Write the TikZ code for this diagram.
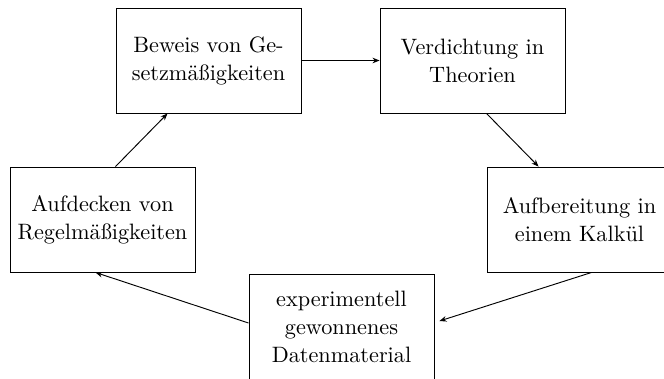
\documentclass[tikz,border=0pt]{standalone}
\usepackage{fontspec}
\usetikzlibrary{arrows.meta}

\tikzset{
  stage/.style={draw, minimum width=2.775cm, minimum height=1.575cm, align=center, inner sep=0pt,
    font=\fontsize{9.5pt}{12pt}\selectfont},
  flow/.style={thin, -{Stealth[length=3pt, width=2.4pt]}}
}

\begin{document}
\begin{tikzpicture}[x=0.015cm, y=-0.015cm]

\useasboundingbox (0,0) rectangle (664,378);

%Boxes

\node [stage] (beweis) at (208.5,60.5) {Beweis von Ge-\\setzmäßigkeiten};
\node [stage] (verd) at (472.5,60.5) {Verdichtung in\\Theorien};
\node [stage] (kalk) at (579.5,219.5) {Aufbereitung in\\einem Kalkül};
\node [stage] (daten) at (341.5,327) {experimentell\\gewonnenes\\Datenmaterial};
\node [stage] (regel) at (102.5,219.5) {Aufdecken von\\Regelmäßigkeiten};

%Arrows

\draw [flow] (beweis.east) -- (verd.west);
\draw [flow] ([xshift=107*0.015cm]verd.south west) -- ([xshift=52*0.015cm]kalk.north west);
\draw [flow] ([xshift=105*0.015cm]kalk.south west) -- ([xshift=5*0.015cm, yshift=6*0.015cm]daten.east);
\draw [flow] ([yshift=4*0.015cm]daten.west) -- ([xshift=86*0.015cm]regel.south west);
\draw [flow] ([xshift=106*0.015cm]regel.north west) -- ([xshift=52*0.015cm]beweis.south west);

\end{tikzpicture}
\end{document}
